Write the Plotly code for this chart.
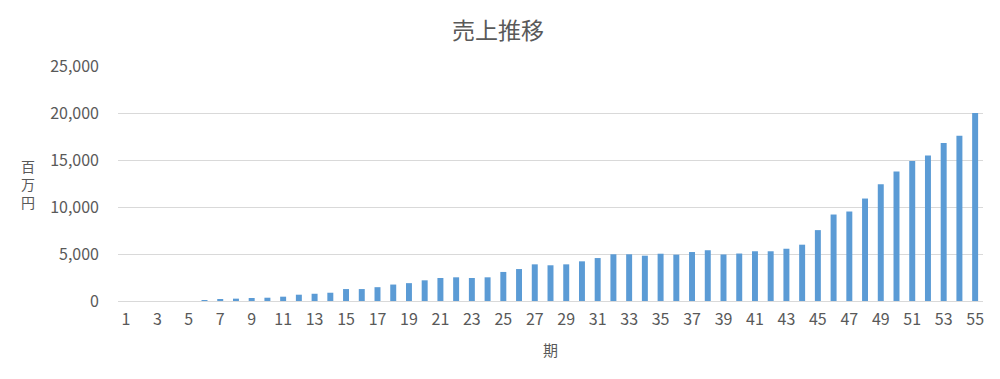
import plotly.graph_objects as go

periods = list(range(1, 56))
sales = [0, 0, 0, 0, 0, 100, 150, 250, 320, 350,
         460, 670, 770, 880, 1270, 1270, 1470, 1750, 1900, 2200,
         2450, 2520, 2450, 2520, 3090, 3400, 3900, 3800, 3900, 4220,
         4570, 4970, 4970, 4820, 5030, 4930, 5210, 5400, 4950, 5050,
         5290, 5290, 5560, 5990, 7540, 9200, 9520, 10900, 12420, 13770,
         14900, 15470, 16815, 17590, 20000]
tick_labels = [str(p) for p in periods if p % 2 == 1]
tick_vals = [p for p in periods if p % 2 == 1]
y_title = "百万円"

FONT = "Noto Sans CJK JP"
GRAY = "#595959"

fig = go.Figure(go.Bar(x=periods, y=sales, marker_color="#5B9BD5", marker_line_width=0))

fig.update_layout(
    width=1000, height=379,
    paper_bgcolor="white", plot_bgcolor="white",
    margin=dict(l=110, r=25, t=58, b=86),
    bargap=0.62,
    showlegend=False,
    font=dict(family=FONT, color=GRAY, size=16),
    title=dict(text="売上推移", x=0.49, xanchor="center", y=0.939, yanchor="middle",
               font=dict(family=FONT, size=23, color=GRAY)),
)
fig.update_xaxes(range=[0.5, 55.5], tickmode="array", tickvals=tick_vals, ticktext=tick_labels,
                 showgrid=False, showline=True, linecolor="#D9D9D9", ticks="",
                 ticklabelstandoff=4,
                 tickfont=dict(size=16, color=GRAY),
                 title=dict(text="期", font=dict(size=15, color=GRAY), standoff=16))
fig.update_yaxes(range=[0, 25000], tickvals=[0, 5000, 10000, 15000, 20000, 25000],
                 tickformat=",", showgrid=True, gridcolor="#D9D9D9", zeroline=False,
                 showline=False, ticks="", ticklabelstandoff=18,
                 tickfont=dict(size=16, color=GRAY))
fig.add_annotation(text="<br>".join(y_title), xref="paper", yref="paper", x=-0.104, y=0.498,
                   xanchor="center", yanchor="middle", showarrow=False,
                   font=dict(family=FONT, size=14, color=GRAY))

fig.write_html("out.html")
